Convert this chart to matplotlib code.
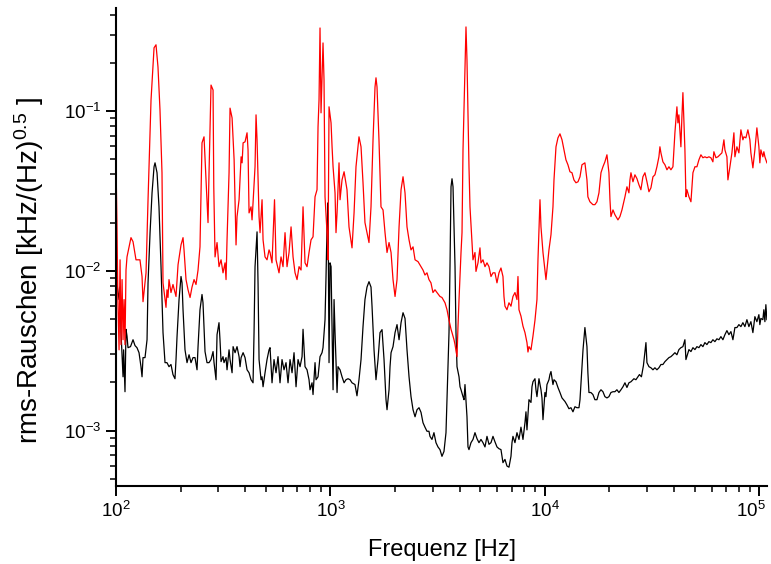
import matplotlib
matplotlib.use('Agg')
import matplotlib.pyplot as plt
import matplotlib.transforms as mtransforms
from matplotlib.ticker import LogLocator, NullFormatter

plt.rcParams['font.family'] = ['Liberation Sans', 'DejaVu Sans']
plt.rcParams['mathtext.fontset'] = 'custom'
plt.rcParams['mathtext.rm'] = 'Liberation Sans'
plt.rcParams['mathtext.it'] = 'Liberation Sans'
plt.rcParams['mathtext.default'] = 'regular'

# frequency [Hz] and rms noise [kHz/Hz^0.5]
red_f = [100, 101, 102, 103.3, 104.4, 105.5, 106.7, 107.8, 109, 110.1, 111.3, 112.5,
         117.4, 120, 123.9, 129.3, 132.2, 133.6, 138, 141, 145.6, 150.4, 153.6, 156.9,
         160.3, 163.8, 165.6, 171, 172.8, 174.7, 176.6, 180.4, 184.3, 190.4, 194.6,
         200.9, 205.3, 207.5, 212, 216.6, 221.4, 226.1, 231.1, 236, 241.2, 246.3,
         251.7, 257.2, 262.8, 268.5, 271.4, 277.3, 283.4, 285.6, 289.5, 295.8, 302.1,
         308.8, 315.4, 322.3, 325.8, 329.3, 336.5, 340.1, 347.6, 355.3, 362.7, 366.6,
         374.7, 383, 387.1, 391.3, 399.5, 408.2, 412.6, 417.1, 426.1, 430.7, 435.4,
         444.8, 449.6, 454.5, 464.4, 469.4, 479.6, 484.8, 495.2, 505.9, 517, 522.5,
         533.8, 548.3, 557.2, 575.4, 587.9, 600.7, 613.8, 627.1, 640.8, 654.8, 669,
         683.5, 698.3, 713.5, 729, 744.7, 760.8, 777.3, 794.2, 811.5, 829.1, 847.1,
         865.4, 874.8, 884.2, 893.7, 903.4, 922.9, 932.9, 943, 963.5, 974, 984.5,
         1006, 1017, 1028, 1050, 1061, 1073, 1096, 1108, 1132, 1157, 1194, 1220, 1260,
         1288, 1315, 1358, 1388, 1418, 1448, 1480, 1512, 1545, 1579, 1613, 1630, 1648,
         1683, 1720, 1758, 1796, 1835, 1875, 1916, 1957, 2000, 2043, 2088, 2133, 2179,
         2226, 2274, 2324, 2374, 2426, 2479, 2559, 2643, 2700, 2758, 2818, 2879, 2941,
         3005, 3071, 3138, 3240, 3310, 3420, 3494, 3570, 3648, 3687, 3767, 3808, 3890,
         3932, 3975, 4061, 4105, 4149, 4238, 4284, 4330, 4424, 4472, 4569, 4618, 4718,
         4769, 4873, 4978, 5032, 5141, 5253, 5367, 5484, 5603, 5724, 5848, 5975, 6105,
         6237, 6372, 6441, 6511, 6652, 6796, 6944, 7094, 7248, 7406, 7486, 7567, 7731,
         7899, 8070, 8245, 8334, 8424, 8608, 8794, 8985, 9179, 9279, 9482, 9584, 9792,
         10000, 10110, 10440, 10670, 10900, 11020, 11260, 11500, 11750, 12010, 12270,
         12530, 12800, 13080, 13370, 13650, 13950, 14260, 14570, 14880, 15360, 15700,
         15860, 16210, 16740, 17100, 17480, 17860, 18250, 18640, 19040, 19460, 19880,
         20100, 20310, 20760, 21200, 21900, 22370, 22860, 23610, 24120, 24640, 24910,
         25180, 25730, 26280, 26850, 27430, 28020, 28630, 29260, 29900, 30550, 31210,
         31890, 32570, 33280, 34000, 34370, 34740, 35490, 36270, 37060, 37860, 38680,
         39520, 40370, 41250, 41690, 42140, 43050, 43520, 43990, 44950, 45440, 45930,
         46930, 47950, 48470, 48990, 50050, 51130, 52240, 53370, 54530, 55710, 56920,
         58150, 59410, 60700, 61350, 62700, 64060, 65450, 66870, 68320, 69060, 70560,
         71320, 72870, 74450, 76060, 76880, 78550, 80250, 81990, 83770, 84680, 86510,
         88390, 90300, 91280, 93260, 95280, 97350, 99460, 100500, 101600, 103800,
         104900, 106100, 108400]
red_v = [0.046, 0.0194, 0.0066, 0.0032, 0.0117, 0.00345, 0.0088, 0.0037, 0.0066, 0.00345,
         0.0101, 0.0122, 0.0161, 0.0152, 0.0117, 0.0117, 0.0092, 0.0064, 0.0097, 0.0278,
         0.117, 0.248, 0.259, 0.188, 0.1015, 0.041, 0.0084, 0.0059, 0.0076, 0.0068,
         0.0088, 0.0073, 0.0082, 0.0069, 0.0109, 0.0145, 0.0161, 0.0135, 0.0088, 0.0076,
         0.0068, 0.0079, 0.0088, 0.0082, 0.0101, 0.0141, 0.0631, 0.0688, 0.037, 0.020,
         0.041, 0.145, 0.135, 0.0335, 0.0122, 0.015, 0.0106, 0.0117, 0.0097, 0.0112,
         0.0088, 0.0156, 0.041, 0.104, 0.0904, 0.0494, 0.0145, 0.0218, 0.0278, 0.0516,
         0.0473, 0.0631, 0.064, 0.0729, 0.057, 0.023, 0.0251, 0.0208, 0.0266, 0.0447,
         0.0944, 0.0659, 0.0218, 0.0173, 0.0278, 0.0156, 0.0122, 0.0117, 0.0135, 0.013,
         0.0112, 0.0278, 0.0117, 0.0097, 0.0122, 0.0106, 0.0173, 0.0106, 0.013, 0.0188,
         0.0122, 0.0097, 0.0088, 0.0106, 0.0101, 0.0251, 0.0112, 0.0106, 0.013, 0.0156,
         0.0163, 0.029, 0.0321, 0.0794, 0.117, 0.33, 0.0972, 0.266, 0.156, 0.029,
         0.0173, 0.0117, 0.106, 0.0841, 0.0596, 0.0447, 0.0307, 0.0173, 0.023, 0.0473,
         0.0278, 0.037, 0.0416, 0.0321, 0.0188, 0.0139, 0.023, 0.0447, 0.0688, 0.0596,
         0.0355, 0.020, 0.0173, 0.015, 0.0251, 0.0659, 0.141, 0.161, 0.141, 0.0659,
         0.0251, 0.024, 0.0173, 0.013, 0.015, 0.013, 0.0088, 0.0069, 0.0088, 0.0188,
         0.0321, 0.0387, 0.0307, 0.0188, 0.0156, 0.0135, 0.0141, 0.0117, 0.0114, 0.0106,
         0.0101, 0.0094, 0.0097, 0.0088, 0.0084, 0.0073, 0.0076, 0.0073, 0.0069, 0.0068,
         0.0063, 0.0057, 0.0049, 0.0043, 0.0041, 0.0037, 0.00345, 0.0029, 0.0045, 0.0066,
         0.013, 0.0173, 0.057, 0.188, 0.335, 0.208, 0.0447, 0.0251, 0.015, 0.0117,
         0.013, 0.0099, 0.0112, 0.0139, 0.0112, 0.0117, 0.0106, 0.0112, 0.0106, 0.0092,
         0.0097, 0.0097, 0.0084, 0.0097, 0.0104, 0.0092, 0.0069, 0.006, 0.0057, 0.0063,
         0.006, 0.0069, 0.0073, 0.0066, 0.0092, 0.0057, 0.0052, 0.0045, 0.0041, 0.00355,
         0.0031, 0.00335, 0.0032, 0.0039, 0.0049, 0.0066, 0.0117, 0.0278, 0.0188, 0.013,
         0.0101, 0.0088, 0.0135, 0.0168, 0.0251, 0.037, 0.0596, 0.0678, 0.0718, 0.0659,
         0.057, 0.0494, 0.046, 0.0416, 0.041, 0.037, 0.0355, 0.036, 0.0387, 0.046,
         0.0473, 0.037, 0.029, 0.027, 0.0259, 0.0259, 0.027, 0.0307, 0.041, 0.0447,
         0.048, 0.0531, 0.041, 0.0278, 0.0218, 0.024, 0.0224, 0.0208, 0.0218, 0.024,
         0.029, 0.0335, 0.0307, 0.037, 0.041, 0.036, 0.0398, 0.0377, 0.0345, 0.0321,
         0.0387, 0.041, 0.036, 0.0312, 0.033, 0.0387, 0.0398, 0.0447, 0.0516, 0.0596,
         0.0546, 0.048, 0.046, 0.0428, 0.0447, 0.0428, 0.0447, 0.0729, 0.106, 0.0841,
         0.0944, 0.0596, 0.0917, 0.130, 0.057, 0.029, 0.0321, 0.029, 0.027, 0.0335,
         0.041, 0.0447, 0.0447, 0.0494, 0.0531, 0.0509, 0.0516, 0.0509, 0.0516, 0.0509,
         0.048, 0.0555, 0.0509, 0.0516, 0.0531, 0.0546, 0.0659, 0.057, 0.0516, 0.037,
         0.0447, 0.0546, 0.0729, 0.0516, 0.0596, 0.0546, 0.0761, 0.0659, 0.0688, 0.0678,
         0.0761, 0.0659, 0.0546, 0.044, 0.057, 0.0783, 0.0596, 0.0473, 0.057, 0.0516,
         0.0555, 0.0516, 0.0473]

black_f = [100, 101.1, 103.3, 104.4, 105.5, 107.8, 108.5, 110.1, 111.3, 112.5, 113.7,
           116.8, 120, 122.6, 125.2, 128, 130.7, 132.2, 133.6, 136.5, 139.5, 141, 144.1,
           147.2, 150.4, 152, 155.3, 158.6, 162.1, 165.6, 169.2, 172.8, 176.6, 180.4,
           184.3, 188.3, 190.4, 192.5, 196.7, 200.9, 203.1, 205.3, 209.7, 214.3, 219,
           223.7, 228.6, 233.5, 238.6, 241.2, 246.3, 251.7, 254.4, 260, 265.6, 271.4,
           277.3, 283.4, 286.4, 292.6, 295.8, 302.1, 305.3, 308.8, 315.4, 318.8, 325.8,
           329.3, 336.5, 340.1, 347.6, 351.4, 359, 366.6, 374.7, 378.7, 383, 391.3,
           399.5, 408.2, 417.1, 426.1, 435.4, 440.1, 444.8, 454.5, 459.4, 464.4, 474.5,
           479.6, 484.8, 495.2, 505.9, 517, 522.5, 533.8, 545.4, 557.2, 569.3, 581.6,
           594.3, 607.2, 620.4, 633.9, 647.7, 661.8, 676.1, 690.8, 705.8, 721.2, 736.9,
           744.7, 760.8, 777.3, 794.2, 802.8, 820.2, 829.1, 847.1, 856.2, 874.8, 893.7,
           913.1, 922.9, 943, 953.2, 963.5, 974, 984.5, 995, 1006, 1028, 1039, 1050,
           1073, 1084, 1108, 1132, 1157, 1181, 1207, 1234, 1260, 1301, 1329, 1358, 1388,
           1418, 1448, 1480, 1512, 1545, 1562, 1596, 1630, 1666, 1702, 1739, 1777, 1815,
           1835, 1875, 1895, 1916, 1957, 2000, 2043, 2088, 2133, 2179, 2226, 2274, 2324,
           2374, 2426, 2479, 2532, 2587, 2643, 2700, 2758, 2818, 2879, 2910, 2973, 3037,
           3104, 3171, 3240, 3310, 3382, 3456, 3494, 3570, 3608, 3648, 3687, 3727, 3808,
           3848, 3890, 3975, 4018, 4061, 4149, 4194, 4238, 4330, 4377, 4424, 4520, 4618,
           4718, 4821, 4925, 5032, 5141, 5253, 5367, 5484, 5603, 5724, 5848, 5975, 6105,
           6237, 6305, 6372, 6511, 6652, 6796, 6944, 7020, 7094, 7248, 7406, 7567, 7731,
           7899, 8070, 8157, 8245, 8424, 8608, 8701, 8794, 8985, 9081, 9179, 9379, 9584,
           9687, 9792, 10000, 10110, 10220, 10440, 10550, 10670, 10900, 11020, 11260,
           11500, 11750, 12010, 12400, 12660, 12940, 13220, 13510, 13800, 14100, 14410,
           14570, 14730, 15050, 15360, 15700, 15860, 16040, 16380, 16740, 17100, 17480,
           17860, 18250, 18640, 19040, 19460, 19880, 20310, 20760, 21200, 21660, 22130,
           22620, 23110, 23610, 24120, 24640, 25180, 26000, 26560, 27140, 27580, 28180,
           28790, 29580, 29900, 30550, 31210, 31890, 32570, 33280, 34000, 34740, 35490,
           36270, 37060, 37860, 38680, 39520, 40370, 41250, 42140, 43050, 43990, 44950,
           45440, 46930, 47950, 48990, 50050, 51130, 52240, 53370, 54530, 55710, 56920,
           58150, 59410, 60700, 62020, 63370, 64750, 66150, 67590, 69060, 70560, 72090,
           73660, 75260, 76880, 78550, 80250, 81990, 83770, 85590, 87450, 89340, 91280,
           93260, 95280, 97350, 99460, 100500, 101600, 103800, 104900, 106100, 107200,
           108400]
black_v = [0.0114, 0.0082, 0.0066, 0.0079, 0.0041, 0.00217, 0.0032, 0.00175, 0.0043, 0.0039,
           0.0033, 0.00335, 0.0037, 0.0034, 0.0033, 0.00307, 0.00251, 0.00217, 0.00286,
           0.00286, 0.0037, 0.0084, 0.0173, 0.0307, 0.0447, 0.0473, 0.041, 0.0251, 0.0106,
           0.0041, 0.00266, 0.00266, 0.00251, 0.00259, 0.00224, 0.00211, 0.00278, 0.00387,
           0.0066, 0.0092, 0.0084, 0.0057, 0.0032, 0.00266, 0.00298, 0.00266, 0.00286,
           0.00286, 0.0024, 0.00335, 0.0057, 0.0071, 0.0063, 0.00312, 0.00266, 0.00266,
           0.00278, 0.00312, 0.00266, 0.00208, 0.00398, 0.00473, 0.0037, 0.0027, 0.0029,
           0.00266, 0.00286, 0.0024, 0.0032, 0.00278, 0.0023, 0.00335, 0.00307, 0.00335,
           0.0029, 0.00251, 0.00286, 0.00307, 0.00286, 0.0024, 0.0023, 0.00208, 0.00199,
           0.0041, 0.0106, 0.0175, 0.0084, 0.00278, 0.00208, 0.00217, 0.00188, 0.0023,
           0.00278, 0.0032, 0.0033, 0.00199, 0.00278, 0.0023, 0.0029, 0.00199, 0.00278,
           0.0024, 0.00266, 0.00199, 0.00278, 0.0023, 0.00307, 0.00188, 0.00278, 0.00251,
           0.0029, 0.0043, 0.00251, 0.0024, 0.00208, 0.0018, 0.00199, 0.00168, 0.00266,
           0.00208, 0.00217, 0.0029, 0.00307, 0.0033, 0.00494, 0.0092, 0.0188, 0.0266,
           0.00266, 0.0112, 0.0106, 0.0018, 0.0066, 0.0041, 0.00173, 0.00251, 0.0024,
           0.00217, 0.00199, 0.00208, 0.00211, 0.00208, 0.00199, 0.00194, 0.00165, 0.00208,
           0.00278, 0.00447, 0.0066, 0.0079, 0.00854, 0.0079, 0.006, 0.0032, 0.00208,
           0.00278, 0.0041, 0.00428, 0.00278, 0.00156, 0.00135, 0.0018, 0.00251, 0.00307,
           0.00335, 0.0041, 0.0046, 0.0037, 0.00473, 0.00546, 0.00503, 0.0032, 0.00217,
           0.00163, 0.00135, 0.00122, 0.00135, 0.00139, 0.0013, 0.00112, 0.00105, 0.00099,
           0.00099, 0.00092, 0.00088, 0.00097, 0.00084, 0.00079, 0.00076, 0.00069, 0.00074,
           0.00097, 0.00156, 0.0041, 0.0106, 0.0335, 0.0376, 0.0335, 0.0106, 0.0041,
           0.00251, 0.00217, 0.00188, 0.0018, 0.00163, 0.00156, 0.00194, 0.00122, 0.00079,
           0.00076, 0.00084, 0.00088, 0.00097, 0.00089, 0.00084, 0.00088, 0.00084, 0.00079,
           0.00092, 0.00082, 0.00084, 0.00092, 0.00085, 0.00079, 0.00077, 0.00076, 0.00069,
           0.00063, 0.00066, 0.0006, 0.00059, 0.00069, 0.00084, 0.00092, 0.00084, 0.00097,
           0.00088, 0.00105, 0.00088, 0.00112, 0.00131, 0.00101, 0.00156, 0.0015, 0.00188,
           0.00202, 0.00211, 0.0018, 0.00163, 0.00211, 0.0018, 0.0016, 0.00117, 0.00173,
           0.00163, 0.00194, 0.00208, 0.00224, 0.00234, 0.00194, 0.00208, 0.00202, 0.00186,
           0.00173, 0.0016, 0.00152, 0.00145, 0.00137, 0.00139, 0.00131, 0.00141, 0.00139,
           0.00139, 0.00156, 0.00199, 0.0032, 0.00441, 0.00335, 0.0023, 0.00173, 0.00173,
           0.00168, 0.00156, 0.00156, 0.00173, 0.0018, 0.00175, 0.00163, 0.0016, 0.00163,
           0.00173, 0.00175, 0.00175, 0.0018, 0.00173, 0.0018, 0.00188, 0.00199, 0.00186,
           0.00199, 0.00202, 0.00211, 0.00208, 0.00217, 0.00224, 0.00217, 0.00255, 0.00355,
           0.00266, 0.00251, 0.00247, 0.0024, 0.00247, 0.0024, 0.00247, 0.00259, 0.00259,
           0.0027, 0.00278, 0.00286, 0.0029, 0.00298, 0.00307, 0.00298, 0.00321, 0.0033,
           0.00335, 0.0037, 0.00278, 0.00321, 0.00312, 0.0033, 0.00321, 0.00335, 0.0033,
           0.00345, 0.00335, 0.00355, 0.00345, 0.0036, 0.00355, 0.0037, 0.0036, 0.00375,
           0.0037, 0.00387, 0.0037, 0.00398, 0.00422, 0.00398, 0.00416, 0.0037, 0.00441,
           0.00441, 0.0046, 0.00447, 0.00473, 0.00447, 0.00494, 0.00447, 0.0048, 0.0041,
           0.00516, 0.0048, 0.00531, 0.0046, 0.00503, 0.00494, 0.0057, 0.0048, 0.00613,
           0.00494]

fig = plt.figure(figsize=(7.71, 5.64), dpi=100)
ax = fig.add_axes([0.1505, 0.1383, 0.8443, 0.8475])

ax.plot(black_f, black_v, color='black', lw=0.9)
ax.plot(red_f, red_v, color='red', lw=0.9)

ax.set_xscale('log')
ax.set_yscale('log')
ax.set_xlim(100, 1.085e5)
ax.set_ylim(4.5e-4, 0.44)

ax.xaxis.set_major_locator(LogLocator(base=10, numticks=10))
ax.xaxis.set_minor_locator(LogLocator(base=10, subs=range(2, 10), numticks=20))
ax.yaxis.set_minor_locator(LogLocator(base=10, subs=range(2, 10), numticks=20))
ax.xaxis.set_minor_formatter(NullFormatter())
ax.yaxis.set_minor_formatter(NullFormatter())

for s in ['top', 'right']:
    ax.spines[s].set_visible(False)
for s in ['left', 'bottom']:
    ax.spines[s].set_linewidth(1.5)

ax.tick_params(which='major', direction='out', length=7, width=1.4, labelsize=13.5)
ax.tick_params(which='minor', direction='out', length=4, width=1.1)

ax.set_xlabel('Frequenz [Hz]', fontsize=17, labelpad=13)
ax.set_ylabel(r'rms-Rauschen [kHz/(Hz)$^{0.5}$ ]', fontsize=20)
ax.yaxis.set_label_coords(-0.108, 0.452)

# nudge the 10^5 label left so it stays inside the canvas
fig.canvas.draw()
for t in ax.xaxis.get_major_ticks():
    if abs(t.get_loc() - 1e5) < 1:
        off = mtransforms.ScaledTranslation(-6 / 72, 0, fig.dpi_scale_trans)
        t.label1.set_transform(t.label1.get_transform() + off)

fig.savefig('out.png', dpi=100)
